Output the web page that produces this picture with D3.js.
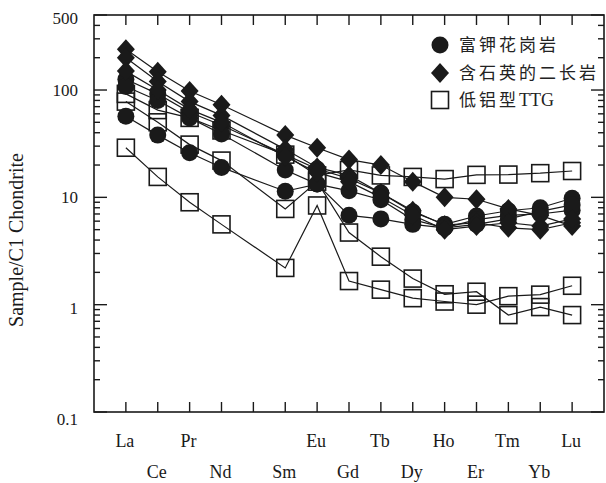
<!DOCTYPE html>
<html><head><meta charset="utf-8">
<script src="https://cdn.jsdelivr.net/npm/d3@7"></script>
<style>body{margin:0;background:#fff}svg{display:block}</style>
</head><body>
<svg id="c" width="606" height="483"></svg>
<script>
// element order on the axis (Pm is a blank slot)
const axisElements = ["La","Ce","Pr","Nd","Pm","Sm","Eu","Gd","Tb","Dy","Ho","Er","Tm","Yb","Lu"];
const ree = ["La","Ce","Pr","Nd","Sm","Eu","Gd","Tb","Dy","Ho","Er","Tm","Yb","Lu"];
const yTickValues = [0.1, 1, 10, 100, 500];
const yTickLabels = ["0.1", "1", "10", "100", "500"];
const legendLabels = ["富钾花岗岩", "含石英的二长岩", "低铝型TTG"];

// 含石英的二长岩 (diamonds)
const monzonite1 = [240,148,98,73,38,29,22.5,20,14,10,9.6,7.8,6.8,5.4];
const monzonite2 = [200,120,78,58,28,19,16,11,7.5,5.5,5.8,5.2,5.0,5.8];
const monzonite3 = [150,100,66,50,24,17,14,10,6.8,5.0,5.4,5.8,5.4,6.3];
// 富钾花岗岩 (circles)
const granite1 = [126,92,62,47,25,18.4,15,11,7.3,5.6,6.7,7.5,8.0,9.8];
const granite2 = [108,80,55,39,18,13.3,11.5,9.5,6.2,5.2,6.2,6.8,7.0,7.6];
const granite3 = [57,38,26,19,11.4,13.3,6.8,6.3,5.6,5.2,5.6,6.3,7.4,8.5];
// 低铝型TTG (open squares)
const ttg1 = [92,65,55,42,25,16,18,16,15.5,14.8,16.2,16.3,16.8,17.6];
const ttg2 = [78,50,31,22,7.8,14,4.7,2.8,1.75,1.25,1.32,0.8,0.95,0.8];
const ttg3 = [29,15.5,9,5.6,2.2,8.4,1.66,1.38,1.15,1.07,1.0,1.2,1.24,1.5];

const seriesList = [
  {values: ttg1, kind: "square"}, {values: ttg2, kind: "square"}, {values: ttg3, kind: "square"},
  {values: granite1, kind: "circle"}, {values: granite2, kind: "circle"}, {values: granite3, kind: "circle"},
  {values: monzonite1, kind: "diamond"}, {values: monzonite2, kind: "diamond"}, {values: monzonite3, kind: "diamond"}
];

const svg = d3.select("#c");
const L = 94, R = 604, T = 15, B = 412;
const ink = "#1a1a1a";
const x = d3.scalePoint().domain(axisElements).range([L, R]).padding(1);
const y = d3.scaleLog().domain([0.1, 500]).range([B, T]);

// markers
function drawMarker(g, kind, cx, cy) {
  if (kind === "circle") {
    g.append("circle").attr("cx", cx).attr("cy", cy).attr("r", 8.5).attr("fill", ink);
  } else if (kind === "diamond") {
    g.append("path").attr("d", `M${cx},${cy-10}L${cx+9},${cy}L${cx},${cy+10}L${cx-9},${cy}Z`).attr("fill", ink);
  } else {
    g.append("rect").attr("x", cx-8.5).attr("y", cy-8.5).attr("width", 17).attr("height", 17)
      .attr("fill", "none").attr("stroke", ink).attr("stroke-width", 1.6);
  }
}

const line = d3.line().x((d, i) => x(ree[i])).y(d => y(d));
const gl = svg.append("g");
seriesList.forEach(s => {
  gl.append("path").attr("d", line(s.values)).attr("fill", "none").attr("stroke", ink).attr("stroke-width", 1.2);
});
const gm = svg.append("g");
seriesList.forEach(s => {
  s.values.forEach((v, i) => drawMarker(gm, s.kind, x(ree[i]), y(v)));
});

// frame
svg.append("rect").attr("x", L).attr("y", T).attr("width", R-L).attr("height", B-T)
  .attr("fill", "none").attr("stroke", ink).attr("stroke-width", 1.6);

// category ticks top & bottom (inward)
const ga = svg.append("g").attr("stroke", ink).attr("stroke-width", 1.4);
axisElements.forEach(e => {
  ga.append("line").attr("x1", x(e)).attr("x2", x(e)).attr("y1", B).attr("y2", B-10);
  ga.append("line").attr("x1", x(e)).attr("x2", x(e)).attr("y1", T).attr("y2", T+10);
});
// log ticks left & right
const minor = [];
[0.1, 1, 10].forEach(d => { for (let k = 2; k <= 9; k++) minor.push(d*k); });
[200, 300, 400].forEach(v => minor.push(v));
minor.forEach(v => {
  ga.append("line").attr("x1", L).attr("x2", L+6).attr("y1", y(v)).attr("y2", y(v));
  ga.append("line").attr("x1", R).attr("x2", R-6).attr("y1", y(v)).attr("y2", y(v));
});
yTickValues.forEach(v => {
  ga.append("line").attr("x1", L).attr("x2", L+13).attr("y1", y(v)).attr("y2", y(v));
  ga.append("line").attr("x1", R).attr("x2", R-13).attr("y1", y(v)).attr("y2", y(v));
});

const serif = "'Liberation Serif','Times New Roman',serif";
// y tick labels
const yOff = {"0.1": 7, "1": 3, "10": 0, "100": 0, "500": 3};
yTickValues.forEach((v, i) => {
  svg.append("text").attr("x", 78).attr("y", y(v) + yOff[yTickLabels[i]]).attr("dy", "0.35em")
    .attr("text-anchor", "end").attr("font-family", serif).attr("font-size", 17).attr("fill", ink)
    .text(yTickLabels[i]);
});
// x labels, alternating rows
axisElements.forEach((e, i) => {
  if (e === "Pm") return;
  svg.append("text").attr("x", x(e) - 1).attr("y", i % 2 === 0 ? 447 : 478)
    .attr("text-anchor", "middle").attr("font-family", serif).attr("font-size", 18).attr("fill", ink)
    .text(e);
});
// y title
svg.append("text").attr("transform", "translate(23,240) rotate(-90)").attr("text-anchor", "middle")
  .attr("font-family", serif).attr("font-size", 20).attr("fill", ink).text("Sample/C1 Chondrite");

// legend
const legKinds = ["circle", "diamond", "square"];
const legY = [45, 73, 100];
legendLabels.forEach((t, i) => {
  drawMarker(svg, legKinds[i], 440, legY[i]);
  const tx = svg.append("text").attr("x", 459).attr("y", legY[i]).attr("dy", "0.36em")
    .attr("font-family", "'Noto Sans CJK SC', sans-serif").attr("font-size", 17)
    .attr("letter-spacing", 3).attr("fill", "#222");
  if (t.endsWith("TTG")) {
    tx.append("tspan").text(t.slice(0, -3));
    tx.append("tspan").attr("font-family", serif).attr("letter-spacing", 0).attr("font-size", 18).text("TTG");
  } else tx.text(t);
});
</script>
</body></html>
